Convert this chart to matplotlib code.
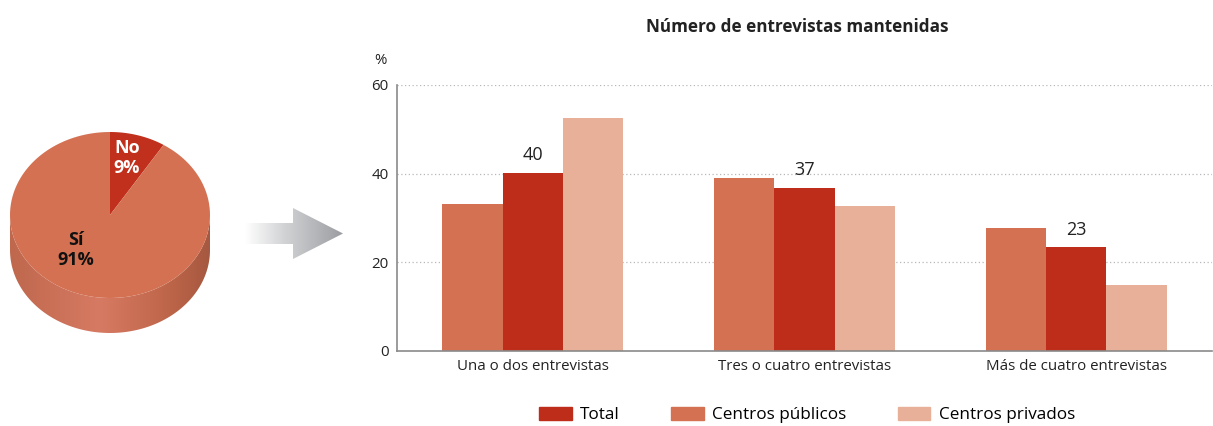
import numpy as np
import matplotlib.pyplot as plt
from matplotlib.colors import LinearSegmentedColormap
from matplotlib.patches import Polygon, Patch

plt.rcParams['font.family'] = ['Open Sans', 'DejaVu Sans']

# data ############################################
pie_labels = ['Sí', 'No']
pie_values = [91, 9]

categories = ['Una o dos entrevistas', 'Tres o cuatro entrevistas', 'Más de cuatro entrevistas']
publicos = [33.2, 39.0, 27.7]
total = [40.1, 36.8, 23.4]
privados = [52.6, 32.7, 14.9]

c_total = '#be2d1a'
c_pub = '#d37152'
c_priv = '#e8b098'

W, H = 1213, 426
fig = plt.figure(figsize=(W / 100, H / 100), dpi=100)

# background axes in pixel coords for pie + arrow
bg = fig.add_axes([0, 0, 1, 1])
bg.set_xlim(0, W)
bg.set_ylim(H, 0)
bg.axis('off')

cx, cy, rx, ry, depth = 110, 215, 100, 83, 35

# side of the pie (gradient)
t = np.linspace(0, np.pi, 100)
top_edge = np.column_stack([cx + rx * np.cos(t), cy + ry * np.sin(t)])
bot_edge = top_edge[::-1] + [0, depth]
side = Polygon(np.vstack([top_edge, bot_edge]), closed=True, fc='none', ec='none')
bg.add_patch(side)
side_cmap = LinearSegmentedColormap.from_list('side', [(0, '#bf684e'), (0.45, '#d77a63'), (0.8, '#bd6549'), (1, '#a65840')])
grad = np.linspace(0, 1, 256).reshape(1, -1)
im = bg.imshow(grad, cmap=side_cmap, extent=[cx - rx, cx + rx, cy + ry + depth, cy - 5], aspect='auto', zorder=1)
im.set_clip_path(side)

# top of the pie, clockwise from 12 o'clock, No first
cols = {'Sí': c_pub, 'No': '#c0301c'}
a = 90
for lab, v in zip(pie_labels[::-1], pie_values[::-1]):
    a0, a1 = a - v / sum(pie_values) * 360, a
    th = np.radians(np.linspace(a0, a1, 120))
    pts = np.column_stack([cx + rx * np.cos(th), cy - ry * np.sin(th)])
    pts = np.vstack([[cx, cy], pts])
    bg.add_patch(Polygon(pts, closed=True, fc=cols[lab], ec='none', zorder=2))
    a = a0

bg.text(127, 158, 'No\n9%', color='white', fontsize=13, fontweight='bold', ha='center', va='center',
        linespacing=1.1, zorder=3)
bg.text(76, 250, 'Sí\n91%', color='#111111', fontsize=13, fontweight='bold', ha='center', va='center',
        linespacing=1.1, zorder=3)

# arrow with gradient
arrow_pts = [(245, 223), (293, 223), (293, 208), (343, 233.5), (293, 259), (293, 244), (245, 244)]
arr = Polygon(arrow_pts, closed=True, fc='none', ec='none')
bg.add_patch(arr)
arr_cmap = LinearSegmentedColormap.from_list('arr', [(0, '#ffffff'), (0.4, '#d2d3d5'), (1, '#9c9da1')])
im2 = bg.imshow(grad, cmap=arr_cmap, extent=[245, 343, 260, 207], aspect='auto', zorder=1)
im2.set_clip_path(arr)

# bar chart ############################################
ax = fig.add_axes([397 / W, 1 - 351 / H, (1212 - 397) / W, (351 - 85) / H])
x = np.arange(len(categories))
w = 0.222
ax.bar(x - w, publicos, w, color=c_pub, zorder=2)
ax.bar(x, total, w, color=c_total, zorder=2)
ax.bar(x + w, privados, w, color=c_priv, zorder=2)

for xi, v in zip(x, total):
    ax.text(xi, v + 4, f'{v:.0f}', ha='center', va='center', fontsize=13, color='#222222')

ax.set_xlim(-0.5, 2.5)
ax.set_ylim(0, 60)
ax.set_yticks([0, 20, 40, 60])
ax.set_xticks(x)
ax.set_xticklabels(categories)
ax.tick_params(length=0, labelsize=10.8, colors='#222222')
ax.tick_params(axis='y', pad=6)
ax.tick_params(axis='x', pad=6)
for yv in [20, 40, 60]:
    ax.axhline(yv, color='#b8b8b8', lw=0.9, ls=(0, (1, 2)), zorder=1)
for s in ['top', 'right']:
    ax.spines[s].set_visible(False)
for s in ['left', 'bottom']:
    ax.spines[s].set_color('#8a8a8a')
    ax.spines[s].set_linewidth(1.2)

fig.text(380 / W, 1 - 60 / H, '%', fontsize=10.8, color='#222222', ha='center', va='center')
fig.text(797 / W, 1 - 27 / H, 'Número de entrevistas mantenidas', fontsize=12.3, fontweight='bold',
         color='#222222', ha='center', va='center')

handles = [Patch(color=c_total), Patch(color=c_pub), Patch(color=c_priv)]
fig.legend(handles, ['Total', 'Centros públicos', 'Centros privados'], loc='center',
           bbox_to_anchor=(807 / W, 1 - 415 / H), ncol=3, frameon=False, fontsize=12.3,
           handlelength=1.9, handleheight=0.8, handletextpad=0.5, columnspacing=3.0)

fig.savefig('out.png', dpi=100)
